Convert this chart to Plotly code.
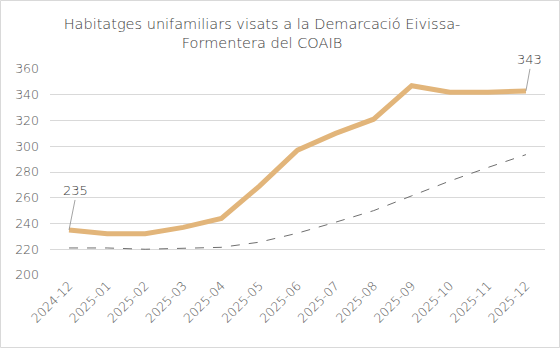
import plotly.graph_objects as go

months = ["2024-12", "2025-01", "2025-02", "2025-03", "2025-04", "2025-05", "2025-06",
          "2025-07", "2025-08", "2025-09", "2025-10", "2025-11", "2025-12"]
habitatges = [235, 232, 232, 237, 244, 269, 297, 310, 321, 347, 342, 342, 343]
tendencia = [221, 221, 220, 220.5, 221.5, 225.5, 232.5, 241, 250, 261.5, 273, 283.5, 293.5]
yticks = [200, 220, 240, 260, 280, 300, 320, 340, 360]

W, H = 560, 348
L, R, T, B = 50, 15, 69, 73
font = "'DejaVu Sans', sans-serif"
grey = "#595959"

fig = go.Figure()
fig.add_trace(go.Scatter(x=months, y=tendencia, mode="lines",
                         line=dict(color="#6f6f6f", width=1, dash="dash"),
                         hoverinfo="skip", showlegend=False))
fig.add_trace(go.Scatter(x=months, y=habitatges, mode="lines",
                         line=dict(color="#E2B57A", width=5),
                         showlegend=False))

fig.add_annotation(x=months[0], y=habitatges[0], text=str(habitatges[0]),
                   showarrow=True, arrowhead=0, arrowwidth=0.8, arrowcolor="#8c8c8c",
                   ax=6, ay=-30, font=dict(family=font, size=13, color="#404040", weight=300),
                   yanchor="bottom")
fig.add_annotation(x=months[-1], y=habitatges[-1], text=str(habitatges[-1]),
                   showarrow=True, arrowhead=0, arrowwidth=0.8, arrowcolor="#8c8c8c",
                   ax=4, ay=-22, font=dict(family=font, size=13, color="#404040", weight=300),
                   yanchor="bottom")

pw = W - L - R
ph = H - T - B
fig.add_shape(type="rect", xref="paper", yref="paper",
              x0=(-L + 0.5) / pw, x1=1 + (R - 0.5) / pw,
              y0=(-B + 0.5) / ph, y1=1 + (T - 0.5) / ph,
              line=dict(color="#d9d9d9", width=1))

fig.update_layout(
    width=W, height=H,
    margin=dict(l=L, r=R, t=T, b=B),
    paper_bgcolor="white", plot_bgcolor="white",
    title=dict(text="Habitatges unifamiliars visats a la Demarcació Eivissa-<br>Formentera del COAIB",
               x=262 / W, xanchor="center", xref="container", yref="container",
               y=1 - 29 / H, yanchor="middle",
               font=dict(family=font, size=14.5, color="#404040", weight=200)),
    xaxis=dict(type="category", range=[-0.5, len(months) - 0.5], tickangle=-45,
               showgrid=False, showline=False, ticks="",
               tickfont=dict(family=font, size=12.5, color=grey, weight=300)),
    yaxis=dict(range=[200, 360], tickvals=yticks, showgrid=True, gridcolor="#d9d9d9",
               gridwidth=1, zeroline=False, showline=False, ticks="",
               ticklabelstandoff=10,
               tickfont=dict(family=font, size=12.5, color=grey, weight=300)),
)

fig.write_html("out.html")
